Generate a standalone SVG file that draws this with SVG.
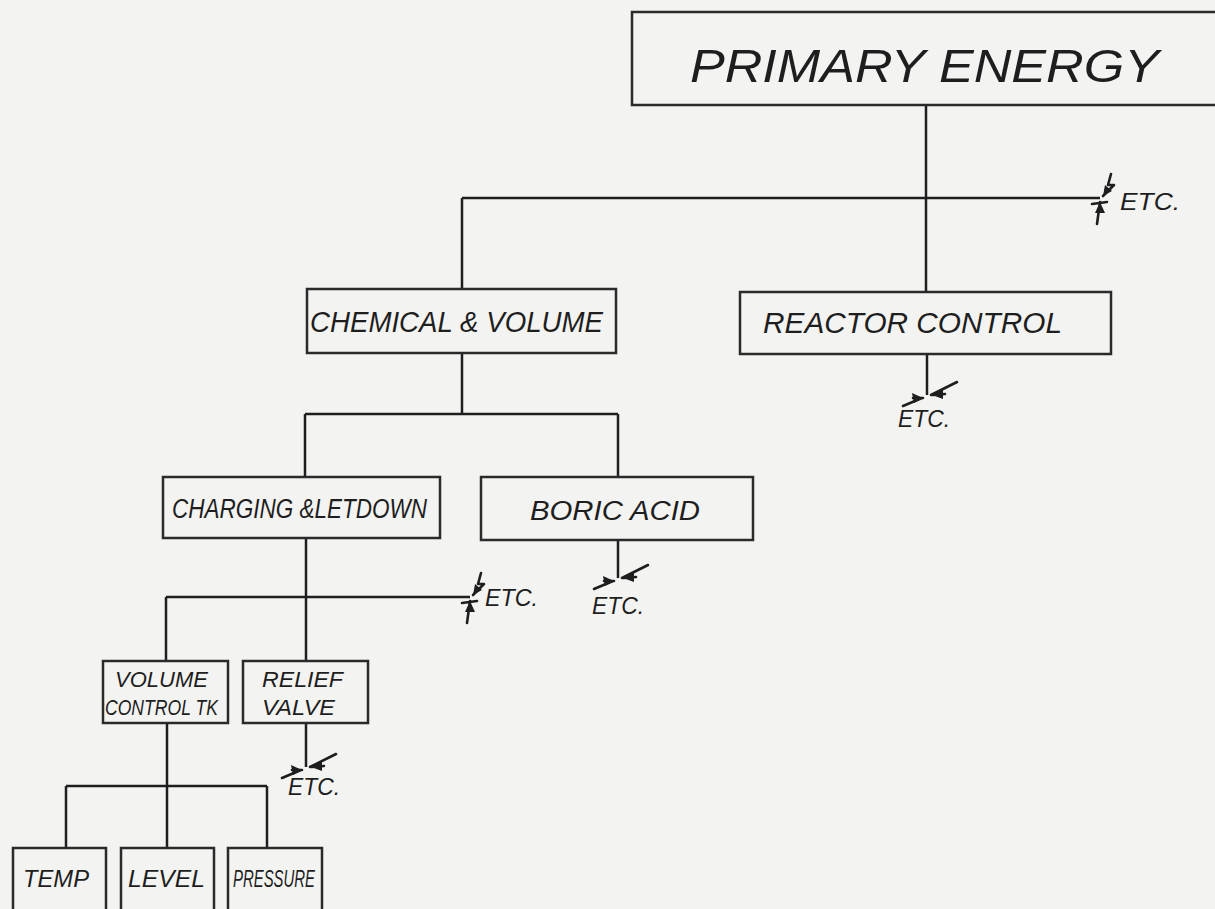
<svg xmlns="http://www.w3.org/2000/svg" width="1215" height="909" viewBox="0 0 1215 909">
<style>
.bg{fill:#f3f3f1}
.box{fill:none;stroke:#2a2a2a;stroke-width:2.5}
.ln{fill:none;stroke:#1e1e1e;stroke-width:2.5}
.brk{fill:none;stroke:#1e1e1e;stroke-width:2.6;stroke-linecap:round;stroke-linejoin:round}
.ah{fill:#1e1e1e}
text{font-family:"Liberation Sans","DejaVu Sans",sans-serif;font-style:italic;fill:#1e1e1e}
</style>
<defs>
<g id="brkV">
<path class="brk" d="M-24,11 L-5,3 M-14,3 L-4,3 M4,0 L30,-13 M6,0 L18,-1"/>
<path class="ah" d="M-4,3 L-15,-2 L-13,8 Z"/>
<path class="ah" d="M5,0 L16,-6 L16,4 Z"/>
</g>
<g id="brkH">
<path class="brk" d="M11,-24 L8,-13 L14,-13 L3,-2 M-3,26 L0,4 M-8,6 L7,4"/>
<path class="ah" d="M3,-2 L5,-13 L12,-7 Z"/>
<path class="ah" d="M0,4 L-5,15 L5,15 Z"/>
</g>
</defs>
<rect class="bg" x="0" y="0" width="1215" height="909"/>

<g id="connectors">
<path class="ln" d="M926,105 V292"/>
<path class="ln" d="M462,198 H1100"/>
<path class="ln" d="M462,198 V289"/>
<path class="ln" d="M927,354 V395"/>
<use href="#brkV" x="927" y="395"/>
<path class="ln" d="M462,353 V414"/>
<path class="ln" d="M305,414 H618"/>
<path class="ln" d="M305,414 V477"/>
<path class="ln" d="M618,414 V477"/>
<path class="ln" d="M618,540 V578"/>
<use href="#brkV" x="618" y="578"/>
<path class="ln" d="M306,538 V597"/>
<path class="ln" d="M166,597 H470"/>
<use href="#brkH" x="470" y="597"/>
<path class="ln" d="M166,597 V661"/>
<path class="ln" d="M306,597 V661"/>
<path class="ln" d="M306,723 V767"/>
<use href="#brkV" x="306" y="767"/>
<path class="ln" d="M167,723 V786"/>
<path class="ln" d="M66,786 H267"/>
<path class="ln" d="M66,786 V848"/>
<path class="ln" d="M167,786 V848"/>
<path class="ln" d="M267,786 V848"/>
<use href="#brkH" x="1100" y="198"/>
<text x="1120" y="210" font-size="24" textLength="60" lengthAdjust="spacingAndGlyphs">ETC.</text>
<text x="898" y="427" font-size="24" textLength="52" lengthAdjust="spacingAndGlyphs">ETC.</text>
<text x="485" y="606" font-size="24" textLength="53" lengthAdjust="spacingAndGlyphs">ETC.</text>
<text x="592" y="614" font-size="24" textLength="52" lengthAdjust="spacingAndGlyphs">ETC.</text>
<text x="288" y="795" font-size="24" textLength="52" lengthAdjust="spacingAndGlyphs">ETC.</text>
</g>

<g id="primary-energy">
<rect class="box" x="632" y="12" width="600" height="93"/>
<text x="690" y="82" font-size="46" textLength="469" lengthAdjust="spacingAndGlyphs">PRIMARY ENERGY</text>
</g>

<g id="chemical-volume">
<rect class="box" x="307" y="289" width="309" height="64"/>
<text x="310" y="332" font-size="30" textLength="293" lengthAdjust="spacingAndGlyphs">CHEMICAL &amp; VOLUME</text>
</g>

<g id="reactor-control">
<rect class="box" x="740" y="292" width="371" height="62"/>
<text x="763" y="333" font-size="30" textLength="299" lengthAdjust="spacingAndGlyphs">REACTOR  CONTROL</text>
</g>

<g id="charging-letdown">
<rect class="box" x="163" y="477" width="277" height="61"/>
<text x="172" y="518" font-size="27" textLength="255" lengthAdjust="spacingAndGlyphs">CHARGING &amp;LETDOWN</text>
</g>

<g id="boric-acid">
<rect class="box" x="481" y="477" width="272" height="63"/>
<text x="530" y="520" font-size="27" textLength="170" lengthAdjust="spacingAndGlyphs">BORIC  ACID</text>
</g>

<g id="volume-control-tk">
<rect class="box" x="103" y="661" width="125" height="62"/>
<text x="115" y="687" font-size="22" textLength="93" lengthAdjust="spacingAndGlyphs">VOLUME</text>
<text x="105" y="715" font-size="22" textLength="113" lengthAdjust="spacingAndGlyphs">CONTROL TK</text>
</g>

<g id="relief-valve">
<rect class="box" x="243" y="661" width="125" height="62"/>
<text x="262" y="687" font-size="22" textLength="81" lengthAdjust="spacingAndGlyphs">RELIEF</text>
<text x="262" y="715" font-size="22" textLength="73" lengthAdjust="spacingAndGlyphs">VALVE</text>
</g>

<g id="temp">
<rect class="box" x="13" y="848" width="93" height="80"/>
<text x="23" y="887" font-size="23" textLength="66" lengthAdjust="spacingAndGlyphs">TEMP</text>
</g>

<g id="level">
<rect class="box" x="121" y="848" width="93" height="80"/>
<text x="128" y="887" font-size="23" textLength="77" lengthAdjust="spacingAndGlyphs">LEVEL</text>
</g>

<g id="pressure">
<rect class="box" x="228" y="848" width="94" height="80"/>
<text x="233" y="887" font-size="23" textLength="82" lengthAdjust="spacingAndGlyphs">PRESSURE</text>
</g>
</svg>
